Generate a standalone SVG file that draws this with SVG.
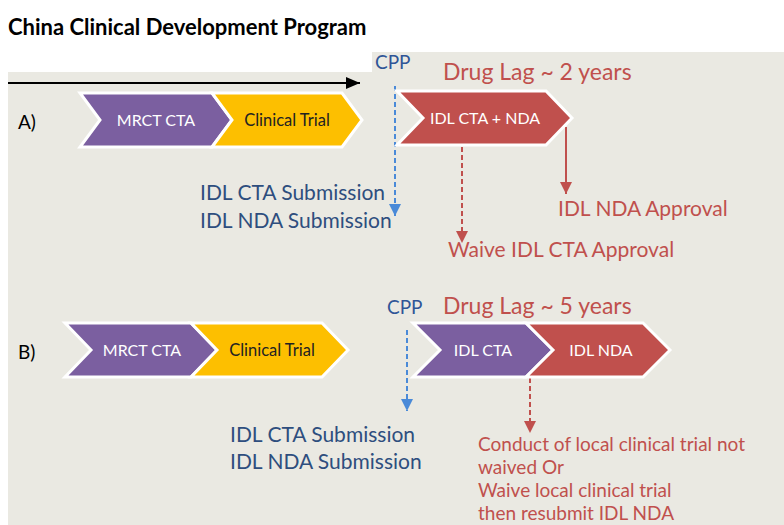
<svg xmlns="http://www.w3.org/2000/svg" width="784" height="525" viewBox="0 0 784 525">
<defs>
<style>
text{font-family:Lato,"Liberation Sans",sans-serif}
.chev{stroke:#ffffff;stroke-width:3;stroke-linejoin:miter}
.pur{fill:#7B5FA0}
.yel{fill:#FDBF00}
.red{fill:#C0504D}
.lw{fill:#ffffff;font-size:16px;text-anchor:middle}
.ld{fill:#222222;font-size:16.5px;text-anchor:middle}
.blu{fill:#2E4E7E;font-size:21px}
.cpp{fill:#2F5597;font-size:19px}
.rt{fill:#C0504D;font-size:21px}
.rm{fill:#C0504D;font-size:19px}
.lag{fill:#C0504D;font-size:23px}
.bd{stroke:#4A8AD8;stroke-width:2;stroke-dasharray:5 3;fill:none}
.rd{stroke:#C0504D;stroke-width:2;stroke-dasharray:5 3;fill:none}
.rs{stroke:#C0504D;stroke-width:2;fill:none}
</style>
<marker id="mb" markerUnits="userSpaceOnUse" markerWidth="14" markerHeight="14" refX="12" refY="6" orient="auto"><path d="M0,0 L12,6 L0,12 Z" fill="#4A8AD8"/></marker>
<marker id="mr" markerUnits="userSpaceOnUse" markerWidth="14" markerHeight="14" refX="12" refY="6" orient="auto"><path d="M0,0 L12,6 L0,12 Z" fill="#C0504D"/></marker>
<marker id="mk" markerUnits="userSpaceOnUse" markerWidth="16" markerHeight="14" refX="14" refY="6" orient="auto"><path d="M0,0 L14,6 L0,12 Z" fill="#000000"/></marker>
</defs>
<rect width="784" height="525" fill="#ffffff"/>
<path d="M8,72 H372 V52 H784 V525 H8 Z" fill="#EAE9E2"/>
<text x="8" y="35" font-size="22" font-weight="bold" fill="#000000">China Clinical Development Program</text>

<g id="connectors">
<line x1="8" y1="83" x2="360" y2="83" stroke="#000000" stroke-width="2" marker-end="url(#mk)"/>
<line class="bd" x1="395" y1="86" x2="395" y2="216" marker-end="url(#mb)"/>
<line class="rd" x1="462" y1="147" x2="462" y2="243" marker-end="url(#mr)"/>
<line class="rs" x1="566" y1="127" x2="566" y2="194" marker-end="url(#mr)"/>
<line class="bd" x1="407" y1="330" x2="407" y2="411" marker-end="url(#mb)"/>
<line class="rd" x1="530" y1="378" x2="530" y2="433" marker-end="url(#mr)"/>
</g>

<g id="labelA"><text x="18" y="129" font-size="19" fill="#000000">A)</text></g>
<g id="labelB"><text x="18" y="359" font-size="19" fill="#000000">B)</text></g>

<g id="a-mrct">
<polygon class="chev pur" points="80,93 212,93 232,120 212,147 80,147 100,120"/>
<text class="lw" x="156" y="126">MRCT CTA</text>
</g>
<g id="a-trial">
<polygon class="chev yel" points="212,93 342,93 362,120 342,147 212,147 232,120"/>
<text class="ld" x="287" y="126">Clinical Trial</text>
</g>
<g id="a-idl">
<polygon class="chev red" points="397,91 546,91 572,118 546,145 397,145 423,118"/>
<text class="lw" x="485" y="124">IDL CTA + NDA</text>
</g>
<g id="a-cpp"><text class="cpp" x="375" y="69">CPP</text></g>
<g id="a-lag"><text class="lag" x="443" y="80">Drug Lag ~ 2 years</text></g>
<g id="a-sub">
<text class="blu" x="200" y="200">IDL CTA Submission</text>
<text class="blu" x="200" y="228">IDL NDA Submission</text>
</g>
<g id="a-nda"><text class="rt" x="558" y="216">IDL NDA Approval</text></g>
<g id="a-waive"><text class="rt" x="448" y="257">Waive IDL CTA Approval</text></g>

<g id="b-mrct">
<polygon class="chev pur" points="65,323 191,323 217,350 191,377 65,377 91,350"/>
<text class="lw" x="142" y="356">MRCT CTA</text>
</g>
<g id="b-trial">
<polygon class="chev yel" points="191,323 322,323 348,350 322,377 191,377 217,350"/>
<text class="ld" x="272" y="356">Clinical Trial</text>
</g>
<g id="b-cta">
<polygon class="chev pur" points="413,323 526,323 553,350 526,377 413,377 440,350"/>
<text class="lw" x="483" y="356">IDL CTA</text>
</g>
<g id="b-nda">
<polygon class="chev red" points="526,323 643,323 670,350 643,377 526,377 553,350"/>
<text class="lw" x="601" y="356">IDL NDA</text>
</g>
<g id="b-cpp"><text class="cpp" x="387" y="314">CPP</text></g>
<g id="b-lag"><text class="lag" x="443" y="314">Drug Lag ~ 5 years</text></g>
<g id="b-sub">
<text class="blu" x="230" y="442">IDL CTA Submission</text>
<text class="blu" x="230" y="469">IDL NDA Submission</text>
</g>
<g id="b-result">
<text class="rm" x="478" y="451">Conduct of local clinical trial not</text>
<text class="rm" x="478" y="474">waived Or</text>
<text class="rm" x="478" y="497">Waive local clinical trial</text>
<text class="rm" x="478" y="520">then resubmit IDL NDA</text>
</g>
</svg>
